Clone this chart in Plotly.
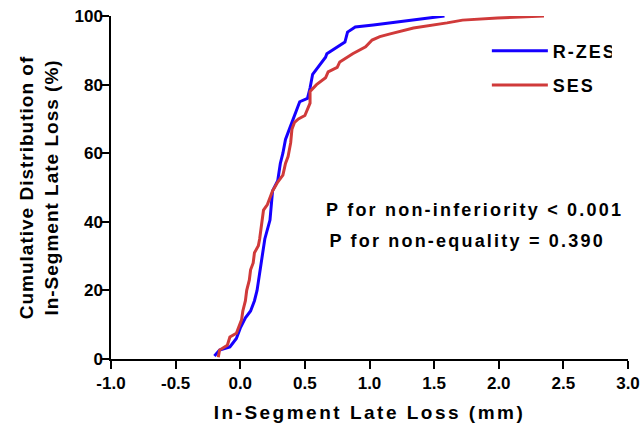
import plotly.graph_objects as go

# ------------------------
# Data
# ------------------------

rzes_loss = [-0.20, -0.16, -0.08, -0.03, 0.00, 0.04, 0.08, 0.11, 0.13, 0.15, 0.17, 0.19,
             0.23, 0.25, 0.29, 0.31, 0.33, 0.35, 0.37, 0.39, 0.41, 0.46, 0.52, 0.54,
             0.56, 0.62, 0.66, 0.67, 0.75, 0.81, 0.83, 0.89, 1.03, 1.16, 1.35, 1.58]
rzes_cum = [0.9, 2.6, 3.5, 6, 9, 12, 14, 17, 20, 25, 29, 35,
            40.5, 49, 52, 57, 60, 64, 66, 68, 70, 75, 76, 79,
            83, 86, 88, 89, 91, 92.4, 95.3, 96.8, 97.4, 98, 98.8, 100]

ses_loss = [-0.17, -0.16, -0.10, -0.08, -0.03, 0.01, 0.02, 0.04, 0.05, 0.07, 0.08, 0.10,
            0.11, 0.14, 0.15, 0.18, 0.21, 0.25, 0.29, 0.33, 0.35, 0.37, 0.39, 0.40,
            0.42, 0.45, 0.50, 0.54, 0.54, 0.59, 0.66, 0.68, 0.75, 0.77, 0.87, 0.97,
            1.02, 1.08, 1.16, 1.34, 1.60, 1.72, 1.99, 2.35]
ses_cum = [0.5, 2.6, 4, 6.4, 7.5, 11.4, 14, 17, 20, 23, 26, 28,
           31, 33, 35, 43.4, 45, 49, 51.6, 53.6, 57, 59, 63, 67,
           69, 70, 71, 74.6, 78, 80, 82, 83.7, 85, 86.6, 89, 91,
           93, 94, 94.8, 96.5, 98, 98.8, 99.4, 100]

x_ticks = [-1, -0.5, 0, 0.5, 1, 1.5, 2, 2.5, 3]
x_tick_labels = ["-1.0", "-0.5", "0.0", "0.5", "1.0", "1.5", "2.0", "2.5", "3.0"]
y_ticks = [0, 20, 40, 60, 80, 100]

p_texts = ["P for non-inferiority < 0.001", "P for non-equality = 0.390"]

font_family = "Liberation Sans, Arial, sans-serif"

fig = go.Figure()

fig.add_trace(
    go.Scatter(
        x=rzes_loss,
        y=rzes_cum,
        mode="lines",
        name="R-ZES",
        legendgroup="rzes",
        line=dict(color="#1600ff", width=3),
        cliponaxis=False
    )
)

fig.add_trace(
    go.Scatter(
        x=ses_loss,
        y=ses_cum,
        mode="lines",
        name="SES",
        legendgroup="ses",
        line=dict(color="#d03a3a", width=3),
        cliponaxis=False
    )
)

# ------------------------
# P-value text (centres picked so both lines start at the same left edge)
# ------------------------

for txt, xpos, ypos in zip(p_texts, [0.704, 0.688], [0.434, 0.344]):
    fig.add_annotation(
        x=xpos, y=ypos, xref="paper", yref="paper",
        text=txt,
        showarrow=False, xanchor="center", yanchor="middle",
        font=dict(family=font_family, size=18, color="black", weight="bold")
    )

axis_style = dict(
    showline=True,
    linecolor="black",
    linewidth=1.5,
    ticks="outside",
    ticklen=8,
    tickwidth=1.5,
    tickcolor="black",
    showgrid=False,
    zeroline=False,
    automargin=False,
    tickfont=dict(family=font_family, size=17, color="black", weight="bold"),
)

fig.update_layout(
    width=641,
    height=430,
    margin=dict(l=111, r=13, t=16, b=71),
    plot_bgcolor="white",
    paper_bgcolor="white",
    xaxis=dict(
        range=[-1, 3],
        tickvals=x_ticks,
        ticktext=x_tick_labels,
        title=dict(text="In-Segment Late Loss (mm)", standoff=14,
                   font=dict(family=font_family, size=19, color="black", weight="bold")),
        **axis_style
    ),
    yaxis=dict(
        range=[0, 100],
        tickvals=y_ticks,
        ticklabelstandoff=-5,
        title=dict(text="Cumulative Distribution of<br>In-Segment Late Loss (%)",
                   standoff=11,
                   font=dict(family=font_family, size=19, color="black", weight="bold")),
        **axis_style
    ),
    legend=dict(
        x=0.727, y=0.952, xanchor="left", yanchor="top",
        bgcolor="rgba(0,0,0,0)",
        font=dict(family=font_family, size=18, color="black", weight="bold"),
        itemwidth=56,
        traceorder="grouped",
        tracegroupgap=8
    ),
    showlegend=True
)

# drop the page margin, then Prism-style letter spacing on titles, legend, annotations
page_js = """
document.body.style.margin = '0';
document.body.style.overflow = 'hidden';
var gd = document.getElementById('{plot_id}');
function spread(sel, v) {
  gd.querySelectorAll(sel).forEach(function (t) { t.style.letterSpacing = v; });
}
spread('.g-xtitle text', '2.5px');
spread('.g-ytitle text', '1px');
spread('.annotation-text', '2.2px');
spread('.legendtext', '2px');
"""

fig.write_html("out.html", post_script=page_js, config={"displayModeBar": False})
